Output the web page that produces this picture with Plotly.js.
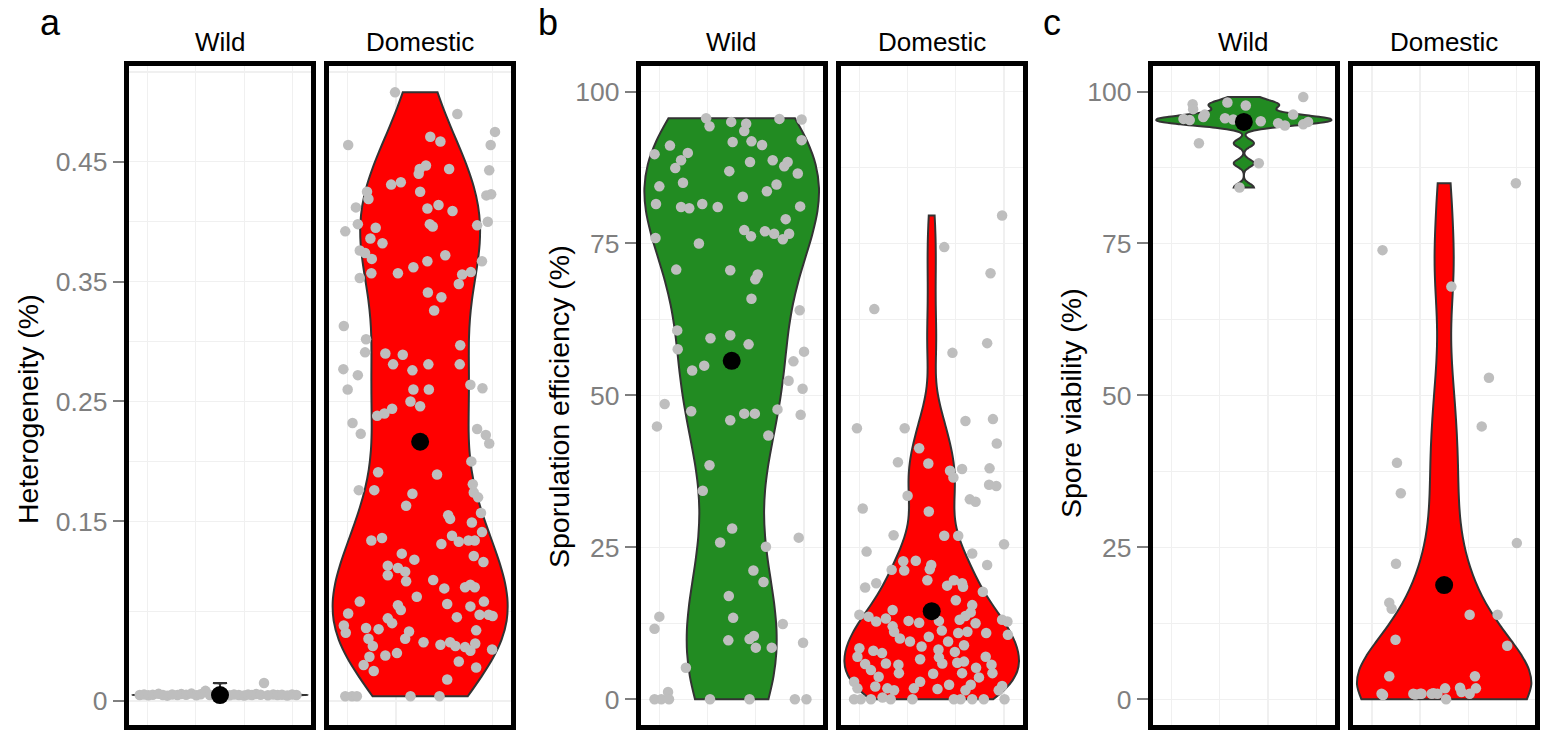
<!DOCTYPE html>
<html><head><meta charset="utf-8">
<script src="https://cdn.plot.ly/plotly-3.0.1.min.js"></script>
<style>html,body{margin:0;padding:0;background:#fff;}#chart{width:1546px;height:734px;}</style>
</head><body><div id="chart"></div>
<script>
// ---------------- DATA ----------------
const facetNames = ['Wild', 'Domestic'];
const panelLetters = ['a', 'b', 'c'];
const yTitles = ['Heterogeneity (%)', 'Sporulation efficiency (%)', 'Spore viability (%)'];

const hetTicks = [0, 0.15, 0.25, 0.35, 0.45];
const hetTickText = ['0', '0.15', '0.25', '0.35', '0.45'];
const pctTicks = [0, 25, 50, 75, 100];
const pctTickText = ['0', '25', '50', '75', '100'];

// group means (black dots)
const hetMeans = [0.005, 0.2164];
const sporMeans = [55.7, 14.5];
const viabMeans = [95.0, 18.8];

// a) Heterogeneity – Wild
const hetWild = [0.0050,0.0055,0.0048,0.0052,0.0060,0.0050,0.0045,0.0055,0.0050,0.0058,0.0052,0.0062,0.0048,0.0056,0.0085,0.0050,0.0055,0.0052,0.0048,0.0055,0.0050,0.0046,0.0055,0.0050,0.0058,0.0052,0.0150,0.0048,0.0055,0.0050,0.0052,0.0046,0.0055,0.0050];
const hetWildJitter = [-1.66,-1.57,-1.48,-1.39,-1.27,-1.18,-1.09,-0.99,-0.88,-0.80,-0.70,-0.59,-0.49,-0.40,-0.30,-0.21,-0.10,0.10,0.20,0.29,0.39,0.50,0.58,0.66,0.75,0.84,0.91,0.99,1.10,1.19,1.28,1.39,1.49,1.58];

// a) Heterogeneity – Domestic
const hetDom = [
 0.508,0.490,0.475,0.464,0.471,0.467,0.464,0.447,0.444,0.440,
 0.444,0.443,0.431,0.433,0.425,0.425,0.419,0.422,0.423,0.412,
 0.411,0.414,0.409,0.398,0.392,0.395,0.398,0.396,0.397,0.400,
 0.386,0.382,0.376,0.374,0.369,0.372,0.367,0.362,0.367,0.357,
 0.357,0.353,0.356,0.358,0.348,0.341,0.337,0.326,0.313,0.302,
 0.297,0.291,0.290,0.289,0.277,0.272,0.281,0.276,0.281,0.281,
 0.260,0.260,0.260,0.264,0.261,
 0.250,0.246,0.244,0.238,0.240,0.232,0.223,0.227,0.222,0.215,
 0.200,0.191,0.189,0.176,0.176,0.173,0.181,0.174,0.170,0.163,
 0.157,0.155,0.152,0.149,0.141,0.134,0.136,0.131,0.138,0.133,
 0.134,0.134,0.121,0.116,0.123,0.118,0.113,0.105,0.111,0.108,
 0.100,0.101,0.094,0.095,0.097,0.095,0.083,0.080,0.076,0.087,
 0.081,0.079,0.083,0.073,0.069,0.065,0.070,0.072,0.072,0.071,
 0.063,0.057,0.061,0.060,0.058,0.052,0.049,0.059,0.052,0.046,
 0.047,0.049,0.046,0.045,0.042,0.048,0.043,0.037,0.038,0.040,
 0.030,0.025,0.033,0.028,0.018,0.004,0.004,0.004,0.004,0.004];
const hetDomJitter = [
 -0.52,0.77,1.55,-1.49,0.21,0.42,1.46,0.12,-0.01,-0.03,
 0.60,1.43,-0.60,-0.40,0.00,-1.10,-1.07,1.37,1.47,-1.33,
 0.15,0.38,0.67,-1.29,-1.55,-0.92,0.20,0.26,1.18,1.40,
 -1.03,-0.78,-1.25,-1.14,-1.00,0.52,0.15,-0.14,1.28,-1.01,
 -0.46,-1.25,0.87,1.05,0.80,0.16,0.44,0.29,-1.58,-1.12,
 0.83,-1.14,-0.72,-0.36,-1.59,-1.29,-0.56,-0.16,0.17,0.82,
 -1.50,-0.14,0.18,1.04,1.29,
 -0.20,0.00,-0.58,-0.89,-0.74,-1.40,-1.23,1.18,1.36,1.43,
 1.06,-0.87,0.35,-1.27,-0.95,-0.16,1.09,1.11,1.20,-0.29,
 1.26,0.58,0.62,1.07,1.28,-1.01,-0.79,0.44,0.66,0.80,
 1.00,1.13,1.11,1.31,-0.38,-0.12,-0.67,-0.67,-0.46,-0.31,
 -0.29,0.27,0.50,0.93,1.04,1.13,-1.25,-0.46,-0.40,-0.07,
 0.56,1.04,1.32,-1.49,-0.67,-0.58,0.76,1.23,1.42,1.50,
 -1.58,-1.54,-1.12,-0.86,-0.23,-0.31,0.07,1.16,-1.07,-0.98,
 0.42,0.62,0.73,0.93,1.04,1.14,1.49,-1.05,-0.72,-0.48,
 -1.17,-0.96,0.80,1.16,0.56,-1.55,-1.41,-1.31,-0.20,0.40];

// b) Sporulation efficiency – Wild
const sporWild = [
 95.6,94.3,95.0,94.7,93.5,95.5,95.4,91.7,91.8,91.2,
 92.0,91.1,89.7,89.9,88.7,87.4,86.9,88.4,88.7,88.4,
 87.7,86.5,84.4,85.0,84.7,83.6,82.7,81.5,81.0,80.8,
 81.5,81.0,81.1,79.0,77.2,76.2,77.0,76.6,75.7,76.6,
 75.9,75.0,70.7,70.6,69.9,69.1,65.9,64.0,60.7,59.4,
 59.9,58.4,57.6,54.9,54.1,57.2,55.6,52.4,51.1,48.6,
 47.4,44.9,45.9,47.0,47.0,47.7,46.8,43.4,38.5,34.3,
 28.1,25.8,25.1,26.6,21.2,19.3,17.0,13.4,13.6,11.6,
 12.4,9.7,9.9,10.4,8.5,8.5,9.3,5.2,0,0,
 1.2,0,0,0,0,0];
const sporWildJitter = [
 -0.53,-0.46,-0.01,0.30,0.26,0.99,1.45,0.02,0.41,0.63,
 1.45,-1.28,-1.60,-0.91,-1.05,-1.17,-0.05,0.38,0.85,1.16,
 1.09,1.37,-1.50,-1.01,0.93,0.73,0.23,-1.57,-1.05,-0.88,
 -0.61,-0.29,1.42,1.12,0.26,0.40,0.69,0.88,1.06,1.19,
 -1.58,-0.68,-1.15,-0.03,0.54,0.49,0.41,1.41,-1.13,-0.44,
 -0.03,0.35,-1.12,-0.57,-0.82,1.50,1.28,1.18,1.47,-1.39,
 -0.84,-1.55,-0.03,0.26,0.48,0.95,1.43,0.76,-0.46,-0.60,
 0.01,-0.24,0.71,1.39,0.45,0.66,-0.06,0.03,-1.50,-1.60,
 1.06,-0.07,0.37,0.46,0.50,0.83,1.48,-0.95,-1.60,-1.46,
 -1.32,-1.30,-0.45,0.37,1.31,1.55];

// b) Sporulation efficiency – Domestic
const sporDom = [
 79.6,74.4,70.1,64.2,58.6,57.0,44.6,44.6,45.8,46.1,
 42.1,41.3,39.0,38.8,37.6,36.5,37.9,38.0,35.3,35.1,
 33.5,32.9,32.5,31.4,30.9,27.0,26.9,26.9,25.5,24.3,
 24.0,22.7,22.8,22.1,21.4,22.1,21.3,21.2,19.6,18.4,
 19.1,18.7,19.6,19.1,18.5,17.7,16.3,15.5,14.7,13.9,
 13.6,12.8,13.3,12.9,12.6,12.9,13.1,13.7,14.3,12.5,
 13.1,12.8,12.0,11.1,10.0,11.3,10.9,11.1,10.9,10.6,
 9.5,8.7,10.3,9.5,8.9,8.4,8.0,7.6,8.2,7.8,
 7.0,6.6,6.9,7.0,5.8,5.9,5.7,5.9,6.0,6.2,
 5.2,5.7,4.8,3.7,4.3,4.2,4.3,3.6,4.3,2.9,
 1.8,2.1,1.8,1.5,1.8,2.9,1.7,2.4,1.5,2.4,
 2.2,1.5,0,0,0,0.3,0,0,0,0,
 0,0,0];
const sporDomJitter = [
 1.46,0.26,1.22,-1.19,1.15,0.43,-1.55,-0.56,0.70,1.27,
 1.35,-0.26,-0.70,-0.07,0.38,0.45,0.63,1.20,1.19,1.34,
 -0.50,0.79,0.91,-1.43,-0.06,-0.79,0.26,0.55,1.50,-1.35,
 0.84,-0.59,-0.33,-0.01,-0.04,1.15,-0.83,-0.57,-0.09,-1.38,
 -1.15,0.32,0.46,0.63,0.65,1.06,0.50,0.84,-0.81,-1.50,
 -1.31,-1.15,-0.95,-0.48,-0.26,0.15,0.58,0.70,0.81,0.91,
 1.46,1.57,-0.81,-0.78,-0.66,0.21,0.55,0.74,1.13,1.58,
 -0.45,-0.21,-0.06,0.34,0.67,-1.50,-1.21,-1.03,0.14,0.48,
 -1.54,-0.24,0.15,1.12,-1.38,-0.95,-0.69,0.22,0.53,0.67,
 0.92,1.24,-1.26,-1.10,-0.68,0.03,0.63,0.98,1.26,-1.61,
 -1.54,-1.17,-0.92,-0.78,-0.37,-0.24,0.12,0.36,0.70,0.81,
 1.46,1.39,-1.61,-1.47,-1.26,-1.02,-0.85,-0.40,0.60,0.84,
 1.08,1.51,0.46];

// c) Spore viability – Wild
const viabWild = [99.1,97.9,97.1,98.2,97.7,95.5,95.3,95.8,96.2,95.6,95.4,95.1,94.8,94.4,96.2,94.6,95.0,91.5,88.2,84.2];
const viabWildJitter = [1.23,-1.06,-1.05,-0.34,0.04,-1.25,-1.12,-0.84,-0.81,-0.39,-0.22,0.35,0.71,0.85,1.02,1.23,1.33,-0.93,0.31,-0.09];

// c) Spore viability – Domestic (several near-zero points overlap at the bottom)
const viabDom = [84.9,73.9,67.9,52.9,44.9,38.9,33.9,25.7,22.3,15.9,14.9,13.9,13.9,9.8,8.8,3.8,3.8,0.9,0.9,0.9,0.9,0.9,1.8,1.9,1.8,0.9,0,0.8,1.0,0.9,1.2,0.7];
const viabDomJitter = [1.49,-1.28,0.15,0.93,0.78,-0.98,-0.90,1.51,-1.00,-1.14,-1.09,0.53,1.11,-1.01,1.31,-1.14,0.64,-1.30,-0.64,-0.50,-0.26,-0.14,0.02,0.33,0.66,0.53,0.04,-0.60,-0.22,-0.47,0.36,-1.27];

// ---------------- LAYOUT / STYLE ----------------
const W = 1546, H = 734;
const px = v => v / W, py = v => 1 - v / H;
const FONT = '"Liberation Sans", Arial, Helvetica, sans-serif';
const GRID = '#F0F0F0';
const TICKGREY = '#7F7F7F';
const COLORS = ['#228B22', '#FF0000'];
const panelTop = 66, panelBottom = 725;
const facetPx = [[128.7, 311.3], [329, 511.3], [640.7, 822.7], [840.7, 1022.7], [1152.7, 1335], [1353.3, 1535]];
const XR = 1.887;

const panels = [
  {vals: [hetWild, hetDom], jit: [hetWildJitter, hetDomJitter], means: hetMeans,
   range: [-0.02, 0.53], ticks: hetTicks, tickText: hetTickText, minor: [0.075, 0.2, 0.3, 0.4, 0.525],
   letterX: 38, titleX: 28, titleY: 409},
  {vals: [sporWild, sporDom], jit: [sporWildJitter, sporDomJitter], means: sporMeans,
   range: [-4.23, 104.2], ticks: pctTicks, tickText: pctTickText, minor: [12.5, 37.5, 62.5, 87.5],
   letterX: 536, titleX: 559, titleY: 407},
  {vals: [viabWild, viabDom], jit: [viabWildJitter, viabDomJitter], means: viabMeans,
   range: [-4.23, 104.2], ticks: pctTicks, tickText: pctTickText, minor: [12.5, 37.5, 62.5, 87.5],
   letterX: 1041, titleX: 1071, titleY: 403}
];

function quant(s, p) {
  const h = (s.length - 1) * p, lo = Math.floor(h);
  const hi = Math.min(lo + 1, s.length - 1);
  return s[lo] + (h - lo) * (s[hi] - s[lo]);
}
// R's bw.nrd0 (ggplot2 default bandwidth)
function nrd0(v) {
  const s = [...v].sort((a, b) => a - b), n = s.length;
  const m = s.reduce((a, b) => a + b, 0) / n;
  const sd = Math.sqrt(s.reduce((a, b) => a + (b - m) * (b - m), 0) / (n - 1));
  let lo = Math.min(sd, (quant(s, 0.75) - quant(s, 0.25)) / 1.34);
  if (!(lo > 0)) lo = sd || Math.abs(s[0]) || 1;
  return 0.9 * lo * Math.pow(n, -0.2);
}

const traces = [];
const layout = {
  width: W, height: H, margin: {l: 0, r: 0, t: 0, b: 0},
  paper_bgcolor: '#fff', plot_bgcolor: '#fff', showlegend: false, hovermode: false,
  font: {family: FONT, color: '#000'},
  annotations: []
};

panels.forEach((p, pi) => {
  for (let f = 0; f < 2; f++) {
    const k = pi * 2 + f;
    const sfx = k === 0 ? '' : String(k + 1);
    const xa = 'x' + sfx, ya = 'y' + sfx;
    const [x0, x1] = facetPx[k];
    layout['xaxis' + sfx] = {
      domain: [px(x0), px(x1)], range: [-XR, XR], type: 'linear', anchor: ya,
      showline: true, mirror: true, linewidth: 5, linecolor: '#000',
      ticks: '', showticklabels: false, tickmode: 'array', tickvals: [-1.5, -0.5, 0.5, 1.5],
      showgrid: true, gridcolor: GRID, gridwidth: 1.2, zeroline: false, fixedrange: true
    };
    layout['yaxis' + sfx] = {
      domain: [py(panelBottom), py(panelTop)], range: p.range, type: 'linear', anchor: xa,
      showline: true, mirror: true, linewidth: 5, linecolor: '#000',
      tickmode: 'array', tickvals: p.ticks, ticktext: p.tickText,
      ticks: f === 0 ? 'outside' : '', ticklen: 11, tickwidth: 2, tickcolor: TICKGREY,
      showticklabels: f === 0, tickfont: {family: FONT, size: 26.5, color: TICKGREY},
      showgrid: true, gridcolor: GRID, gridwidth: 1.2, zeroline: false, fixedrange: true,
      minor: {tickmode: 'array', tickvals: p.minor, showgrid: true, gridcolor: GRID, gridwidth: 1.2, ticks: ''}
    };
    const vals = p.vals[f];
    traces.push({
      type: 'violin', x0: 0, y: vals, xaxis: xa, yaxis: ya,
      fillcolor: COLORS[f], line: {color: '#333333', width: 2}, opacity: 1,
      points: false, spanmode: 'hard', scalemode: 'width', width: 3.62,
      bandwidth: nrd0(vals), box: {visible: false}, meanline: {visible: false},
      hoverinfo: 'skip', showlegend: false, name: facetNames[f]
    });
    traces.push({
      type: 'scatter', mode: 'markers', x: p.jit[f], y: vals, xaxis: xa, yaxis: ya,
      marker: {color: '#BEBEBE', size: 10.5, line: {width: 0}}, hoverinfo: 'skip', showlegend: false
    });
    traces.push({
      type: 'scatter', mode: 'markers', x: [0], y: [p.means[f]], xaxis: xa, yaxis: ya,
      marker: {color: '#000000', size: 18, line: {width: 0}}, hoverinfo: 'skip', showlegend: false
    });
    // facet strip label
    layout.annotations.push({
      text: facetNames[f], xref: 'paper', yref: 'paper', x: px((x0 + x1) / 2), y: py(42.5),
      xanchor: 'center', yanchor: 'middle', showarrow: false, font: {family: FONT, size: 26, color: '#000'}
    });
  }
  // panel letter
  layout.annotations.push({
    text: panelLetters[pi], xref: 'paper', yref: 'paper', x: px(p.letterX), y: py(22),
    xanchor: 'left', yanchor: 'middle', showarrow: false, font: {family: FONT, size: 36, color: '#000'}
  });
  // y axis title
  layout.annotations.push({
    text: yTitles[pi], xref: 'paper', yref: 'paper', x: px(p.titleX), y: py(p.titleY),
    xanchor: 'center', yanchor: 'middle', textangle: -90, showarrow: false,
    font: {family: FONT, size: 28.5, color: '#000'}
  });
});

Plotly.newPlot('chart', traces, layout, {staticPlot: true, displayModeBar: false});
</script></body></html>
